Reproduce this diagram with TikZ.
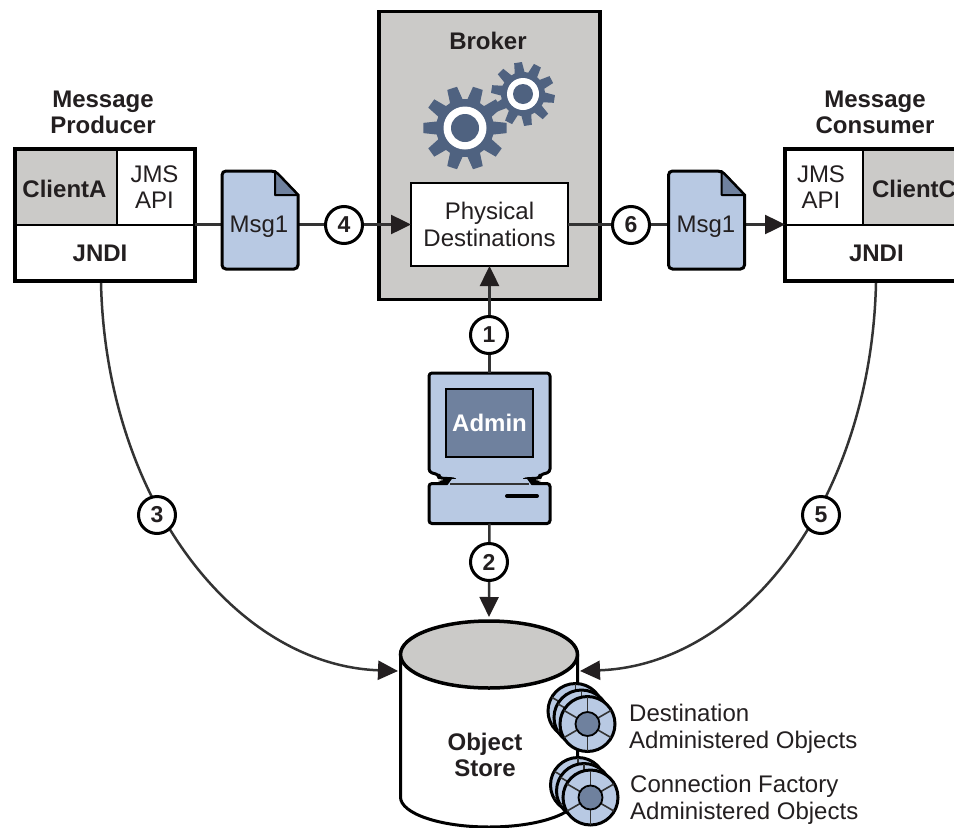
\documentclass[tikz,border=0pt]{standalone}
\usepackage{fontspec}
\setmainfont{Liberation Sans}
\usetikzlibrary{arrows.meta,calc}
\definecolor{blueF}{HTML}{B8C9E3}
\definecolor{slateF}{HTML}{6F819E}
\definecolor{gearF}{HTML}{4F6280}
\definecolor{grayF}{HTML}{CBCAC8}
\definecolor{inkT}{HTML}{231F20}
\definecolor{lineC}{HTML}{333333}
\tikzset{
  cell/.style={draw=black,line width=2.5pt,minimum width=#1,inner sep=0pt,outer sep=0pt,text=inkT,align=center},
  txt/.style={font=\fontsize{24}{27}\selectfont,text=inkT,align=center,inner sep=0pt},
  btxt/.style={font=\fontsize{24}{26}\selectfont\bfseries,text=inkT,align=center,inner sep=0pt},
  ltxt/.style={font=\fontsize{24}{27}\selectfont,text=inkT,align=left,inner sep=0pt,anchor=north west},
  link/.style={draw=lineC,line width=2.5pt},
  arrowed/.style={link,-{Triangle[length=20pt,width=19pt,color=inkT]}},
  num/.style={circle,draw=black,line width=3pt,fill=white,minimum size=37pt,inner sep=0pt,font=\fontsize{23}{23}\selectfont\bfseries,text=inkT},
}
\newcommand{\gearshape}[7]{% cx cy rOut rRoot rot ringOut ringIn
  \fill[gearF] \foreach \ti in {0,...,9}{
    \ifnum\ti=0 ($(#1,#2)+({#5+\ti*36-13}:#4)$) \else -- ($(#1,#2)+({#5+\ti*36-13}:#4)$) \fi
    -- ($(#1,#2)+({#5+\ti*36-7}:#3)$)
    -- ($(#1,#2)+({#5+\ti*36+7}:#3)$)
    -- ($(#1,#2)+({#5+\ti*36+13}:#4)$)
  } -- cycle;
  \fill[white] (#1,#2) circle[radius=#6];
  \fill[gearF] (#1,#2) circle[radius=#7];
}
\newcommand{\disc}[2]{%
  \draw[fill=blueF,draw=black,line width=3pt] (#1,#2) circle[radius=27.5];
  \foreach \a in {30,90,150,210,270,330}
    \draw[lineC,line width=1.6pt] ($(#1,#2)+(\a:12)$) -- ($(#1,#2)+(\a:27)$);
  \draw[fill=slateF,draw=black,line width=1.8pt] (#1,#2) circle[radius=12];
}
\newcommand{\msgshape}[1]{%
  \draw[fill=blueF,draw=black,line width=3pt,rounded corners=4pt]
    (#1-76/2,171) -- (#1+15,171) [sharp corners] -- (#1+38,195) [rounded corners=4pt] -- (#1+38,269) -- (#1-38,269) -- cycle;
  \draw[fill=slateF,draw=black,line width=2pt,line join=round]
    (#1+15,171) -- (#1+38,195) -- (#1+15,195) -- cycle;
}
\begin{document}
\begin{tikzpicture}[x=1pt,y=-1pt]
\useasboundingbox (0,0) rectangle (954,828);
\clip (0,0) rectangle (954,828);
\fill[white] (0,0) rectangle (954,828);

% Broker
\node[draw=black,line width=3.5pt,fill=grayF,minimum width=221pt,minimum height=288pt,inner sep=0pt,outer sep=0pt] (broker) at (489.5,155.5) {};
\node[btxt,anchor=base] (brokerT) at (488,49) {Broker};
\gearshape{523}{94}{32}{22}{9}{16}{10}
\gearshape{465}{128}{42}{29}{0}{21.5}{14}
\node[draw=black,line width=2.5pt,fill=white,minimum width=157pt,minimum height=83pt,inner sep=0pt,outer sep=0pt,txt] (phys) at (489.5,224.5) {Physical\\Destinations};

% Producer
\node[btxt] (prodT) at (103,112) {Message\\Producer};
\node[cell=102pt,fill=grayF,minimum height=76pt,font=\fontsize{24}{26}\selectfont\bfseries] (clientA) at (66,187) {\raisebox{-10.6pt}[0pt][0pt]{\hspace{-3pt}ClientA}};
\node[cell=78pt,fill=white,minimum height=76pt,font=\fontsize{24}{26}\selectfont] (apiA) at (156,187) {\hspace{-3pt}JMS\\\hspace{-3pt}API};
\node[cell=180pt,fill=white,minimum height=56pt,font=\fontsize{24}{26}\selectfont\bfseries] (jndiA) at (105,253) {\hspace{-10pt}JNDI};
\node[draw=black,line width=3.5pt,minimum width=180pt,minimum height=132pt,inner sep=0pt,outer sep=0pt] (prod) at (105,215) {};

% Consumer
\node[btxt] (consT) at (875,112) {Message\\Consumer};
\node[cell=78pt,fill=white,minimum height=76pt,font=\fontsize{24}{26}\selectfont] (apiC) at (824,187) {\hspace{-6pt}JMS\\\hspace{-6pt}API};
\node[cell=110pt,fill=grayF,minimum height=76pt,font=\fontsize{24}{26}\selectfont\bfseries,anchor=west,align=left,text width=110pt] (clientC) at (863,187) {\raisebox{-10.6pt}[0pt][0pt]{\hspace{9pt}ClientC}};
\node[cell=190pt,fill=white,minimum height=56pt,anchor=west,font=\fontsize{24}{26}\selectfont\bfseries,align=left,text width=190pt] (jndiC) at (785,253) {\hspace{64pt}JNDI};
\node[draw=black,line width=3.5pt,minimum width=190pt,minimum height=132pt,inner sep=0pt,outer sep=0pt,anchor=west] (cons) at (785,215) {};

% Object store
\fill[white] (400.5,655) -- (400.5,797) arc[start angle=180,end angle=0,x radius=88.5,y radius=30] -- (577.5,655) -- cycle;
\draw[black,line width=3pt] (400.5,655) -- (400.5,797) arc[start angle=180,end angle=0,x radius=88.5,y radius=30] -- (577.5,655);
\draw[fill=grayF,draw=black,line width=3.5pt] (489,654.5) ellipse[x radius=88.5,y radius=33.5];
\node[btxt] (store) at (485,755) {Object\\Store};
\coordinate (storeTop) at (489,617);
\coordinate (storeL) at (398,671);
\coordinate (storeR) at (580,671);

% Admin
\draw[fill=blueF,draw=black,line width=3pt,line join=round,rounded corners=3pt]
  (429,373) -- (550,373) -- (550,472) -- (540,475) -- (540,478) -- (523,479) -- (530,485)
  -- (449,485) -- (456,479) -- (439,478) -- (439,475) -- (429,472) -- cycle;
\fill[black] (523,478) -- (541,481) -- (530,485) -- cycle;
\fill[black] (456,478) -- (438,481) -- (449,485) -- cycle;
\node[draw=black,line width=2.5pt,fill=slateF,minimum width=87pt,minimum height=68pt,inner sep=0pt,outer sep=0pt,text=white,font=\fontsize{24}{26}\selectfont\bfseries] (screen) at (489.5,423) {Admin};
\node[draw=black,line width=3pt,fill=blueF,rounded corners=3pt,minimum width=121pt,minimum height=40pt,inner sep=0pt,outer sep=0pt] (base) at (489.5,503.5) {};
\fill[blueF] (452,479) -- (527,479) -- (532,486) -- (447,486) -- cycle;
\draw[lineC,line width=1.5pt] (450,484) -- (529,484);
\draw[black,line width=4pt,line cap=round] (507,496) -- (537,496);
\coordinate (monTop) at (489.5,373);

% Connectors
\draw[arrowed] (prod.east |- phys) -- (phys.west);
\draw[arrowed] (phys.east) -- (cons.west |- phys);
\draw[arrowed] (monTop) -- (phys.south);
\draw[arrowed] (base.south) -- (storeTop);
\draw[arrowed] (101,283) .. controls (106,500) and (235,665) .. (storeL);
\draw[arrowed] (876,283) .. controls (871,500) and (744,665) .. (storeR);

% Messages
\msgshape{260}
\node[txt] (msgA) at (259,227) {Msg1};
\msgshape{706.5}
\node[txt] (msgC) at (706,227) {Msg1};

% Step numbers
\node[num] (n4) at (344,225) {4};
\node[num] (n6) at (631,225) {6};
\node[num] (n1) at (489,335) {1};
\node[num] (n2) at (489,562) {2};
\node[num] (n3) at (157,515) {3};
\node[num] (n5) at (821,515) {5};

% Administered objects
\disc{575.5}{711}\disc{581.5}{717.5}\disc{587.5}{724}
\disc{578}{785}\disc{584}{791}\disc{590.5}{797.5}
\node[ltxt] (destL) at (629,704) {Destination\\Administered Objects};
\node[ltxt] (connL) at (630,775) {Connection Factory\\Administered Objects};
\end{tikzpicture}
\end{document}
